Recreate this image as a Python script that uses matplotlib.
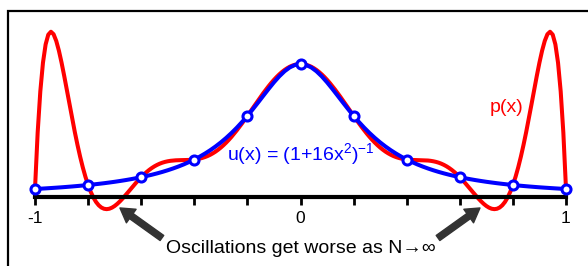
import numpy as np
import matplotlib
matplotlib.use("Agg")
import matplotlib.pyplot as plt
from matplotlib.patches import Rectangle

plt.rcParams['font.family'] = ['Liberation Sans', 'DejaVu Sans']
plt.rcParams['mathtext.fontset'] = 'custom'
plt.rcParams['mathtext.rm'] = 'Liberation Sans'
plt.rcParams['mathtext.it'] = 'Liberation Sans'
plt.rcParams['axes.unicode_minus'] = False

# both curves are symmetric, so only x >= 0 is listed
# u(x) read at x = 0 .. 1, step 0.02
x_u = np.round(np.arange(0, 1.0001, 0.02), 2)
u_half = [1.0000, 0.9936, 0.9750, 0.9455, 0.9071, 0.8621, 0.8127, 0.7613, 0.7094,
          0.6586, 0.6098, 0.5636, 0.5204, 0.4804, 0.4436, 0.4098, 0.3790, 0.3509,
          0.3254, 0.3021, 0.2809, 0.2616, 0.2440, 0.2280, 0.2134, 0.2000, 0.1877,
          0.1765, 0.1662, 0.1567, 0.1479, 0.1399, 0.1324, 0.1255, 0.1191, 0.1131,
          0.1076, 0.1024, 0.0976, 0.0932, 0.0890, 0.0850, 0.0814, 0.0779, 0.0747,
          0.0716, 0.0688, 0.0661, 0.0635, 0.0611, 0.0588]
# p(x) read at x = 0 .. 1, step 0.01
x_p = np.round(np.arange(0, 1.0001, 0.01), 2)
p_half = [1.0000, 0.9987, 0.9949, 0.9886, 0.9799, 0.9687,
          0.9553, 0.9396, 0.9219, 0.9023, 0.8809, 0.8579,
          0.8334, 0.8077, 0.7810, 0.7533, 0.7251, 0.6964,
          0.6675, 0.6385, 0.6098, 0.5814, 0.5536, 0.5266,
          0.5005, 0.4754, 0.4516, 0.4292, 0.4082, 0.3888,
          0.3710, 0.3549, 0.3404, 0.3277, 0.3166, 0.3071,
          0.2992, 0.2927, 0.2876, 0.2837, 0.2809, 0.2790,
          0.2777, 0.2770, 0.2765, 0.2762, 0.2757, 0.2748,
          0.2733, 0.2710, 0.2676, 0.2631, 0.2572, 0.2497,
          0.2405, 0.2296, 0.2168, 0.2022, 0.1858, 0.1677,
          0.1479, 0.1267, 0.1044, 0.0811, 0.0573, 0.0334,
          0.0099, -0.0128, -0.0339, -0.0529, -0.0690, -0.0815,
          -0.0898, -0.0929, -0.0901, -0.0807, -0.0639, -0.0391,
          -0.0056, 0.0369, 0.0890, 0.1506, 0.2217, 0.3021,
          0.3910, 0.4873, 0.5897, 0.6962, 0.8041, 0.9103,
          1.0107, 1.1005, 1.1739, 1.2241, 1.2429, 1.2210,
          1.1475, 1.0098, 0.7937, 0.4829, 0.0588]

# interpolation nodes
x_nodes = [-1.0, -0.8, -0.6, -0.4, -0.2, 0.0, 0.2, 0.4, 0.6, 0.8, 1.0]
u_nodes = [0.0588, 0.0890, 0.1479, 0.2809, 0.6098, 1.0, 0.6098, 0.2809, 0.1479, 0.0890, 0.0588]
tick_labels = ['-1', '', '', '', '', '0', '', '', '', '', '1']


def mirror(x, y):
    y = np.array(y)
    return np.concatenate([-x[::-1], x[1:]]), np.concatenate([y[::-1], y[1:]])


xu, uu = mirror(x_u, u_half)
xp, pp = mirror(x_p, p_half)

fig = plt.figure(figsize=(5.88, 2.66), dpi=100)
ax = fig.add_axes([35/588, 0, 531/588, 1])
ax.set_xlim(-1, 1)
ax.set_ylim(-0.521, 1.482)

ax.plot(xp, pp, color='#ff0000', lw=2.9, zorder=2, clip_on=False,
        solid_joinstyle='round', solid_capstyle='round')
ax.plot(xu, uu, color='#0000ff', lw=2.9, zorder=3, clip_on=False,
        solid_joinstyle='round')
ax.plot(x_nodes, u_nodes, 'o', ms=6.5, mfc='white', mec='#0000ff', mew=2.2,
        zorder=4, clip_on=False)

for s in ['left', 'right', 'top']:
    ax.spines[s].set_visible(False)
ax.spines['bottom'].set_position(('data', 0))
ax.spines['bottom'].set_linewidth(3)
ax.set_yticks([])
ax.set_xticks(x_nodes)
ax.set_xticklabels(tick_labels)
ax.tick_params(axis='x', direction='out', length=6, width=2, pad=4.5, labelsize=12.5)
ax.patch.set_visible(False)

ax.text(-0.277, 0.277, r'u(x) = (1+16x$^2$)$^{-1}$', color='#0000ff', fontsize=14,
        ha='left', va='baseline')
ax.text(0.714, 0.639, 'p(x)', color='#ff0000', fontsize=14, ha='left', va='baseline')
ax.text(0, -0.423, 'Oscillations get worse as N\u2192\u221e', color='black', fontsize=14,
        ha='center', va='baseline')

arrow = dict(arrowstyle='simple,head_width=1.2,head_length=1.0,tail_width=0.45',
             color='#333333', shrinkA=0, shrinkB=0, mutation_scale=10)
ax.annotate('', xy=(-0.680, -0.084), xytext=(-0.522, -0.310), arrowprops=arrow)
ax.annotate('', xy=(0.676, -0.084), xytext=(0.518, -0.310), arrowprops=arrow)

fig.patches.append(Rectangle((8/588, -0.2), 1.2, 0.2 + 255/266, transform=fig.transFigure,
                             fill=False, edgecolor='black', lw=1.6, figure=fig))

fig.savefig('out.png', dpi=100)
